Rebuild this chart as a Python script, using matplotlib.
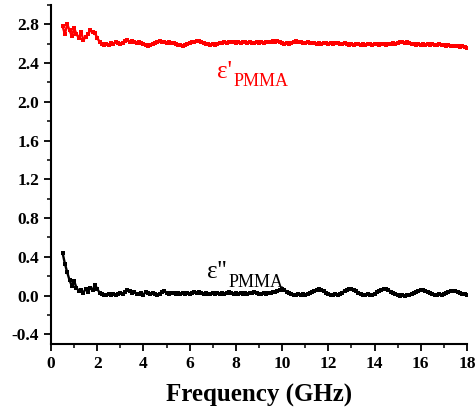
import numpy as np
import matplotlib
matplotlib.use("Agg")
import matplotlib.pyplot as plt
from matplotlib.ticker import MultipleLocator

# frequency grid of the VNA sweep (GHz)
freq = np.round(np.arange(0.5, 18.001, 0.1), 2)

# real part of permittivity, PMMA
eps_real = [
    2.78, 2.70, 2.80, 2.74, 2.68, 2.76, 2.70, 2.66, 2.72, 2.64,
    2.67, 2.70, 2.74, 2.72, 2.71, 2.66, 2.62, 2.60, 2.59, 2.60,
    2.59, 2.61, 2.60, 2.62, 2.61, 2.60, 2.61, 2.63, 2.64, 2.62,
    2.63, 2.62, 2.61, 2.62, 2.61, 2.60, 2.59, 2.58, 2.59, 2.60,
    2.61, 2.62, 2.63, 2.62, 2.62, 2.61, 2.62, 2.61, 2.61, 2.60,
    2.59, 2.59, 2.58, 2.59, 2.60, 2.61, 2.62, 2.62, 2.63, 2.63,
    2.62, 2.61, 2.60, 2.60, 2.59, 2.60, 2.59, 2.60, 2.61, 2.61,
    2.62, 2.61, 2.62, 2.62, 2.62, 2.61, 2.62, 2.61, 2.62, 2.62,
    2.61, 2.62, 2.61, 2.61, 2.62, 2.61, 2.62, 2.61, 2.62, 2.62,
    2.62, 2.63, 2.62, 2.63, 2.62, 2.61, 2.60, 2.61, 2.60, 2.61,
    2.62, 2.63, 2.62, 2.62, 2.61, 2.61, 2.62, 2.61, 2.61, 2.61,
    2.60, 2.61, 2.60, 2.61, 2.61, 2.60, 2.61, 2.60, 2.61, 2.61,
    2.60, 2.60, 2.61, 2.60, 2.59, 2.60, 2.59, 2.60, 2.60, 2.59,
    2.60, 2.59, 2.60, 2.60, 2.59, 2.60, 2.60, 2.59, 2.60, 2.60,
    2.59, 2.60, 2.60, 2.61, 2.60, 2.61, 2.62, 2.62, 2.61, 2.62,
    2.61, 2.60, 2.60, 2.59, 2.60, 2.59, 2.60, 2.59, 2.60, 2.59,
    2.60, 2.59, 2.59, 2.60, 2.59, 2.59, 2.58, 2.59, 2.58, 2.58,
    2.58, 2.58, 2.57, 2.58, 2.57, 2.56,
]

# imaginary part of permittivity, PMMA
eps_imag = [
    0.44, 0.33, 0.24, 0.16, 0.10, 0.15, 0.08, 0.05, 0.06, 0.03,
    0.07, 0.04, 0.08, 0.06, 0.11, 0.07, 0.03, 0.02, 0.01, 0.01,
    0.02, 0.01, 0.02, 0.01, 0.02, 0.03, 0.02, 0.04, 0.06, 0.05,
    0.03, 0.04, 0.02, 0.02, 0.03, 0.01, 0.04, 0.03, 0.02, 0.03,
    0.02, 0.01, 0.02, 0.04, 0.05, 0.03, 0.02, 0.03, 0.03, 0.02,
    0.03, 0.02, 0.03, 0.02, 0.03, 0.02, 0.03, 0.04, 0.03, 0.04,
    0.03, 0.02, 0.03, 0.02, 0.02, 0.03, 0.02, 0.03, 0.02, 0.03,
    0.02, 0.03, 0.04, 0.03, 0.02, 0.03, 0.02, 0.03, 0.02, 0.03,
    0.02, 0.03, 0.03, 0.04, 0.03, 0.02, 0.02, 0.03, 0.02, 0.03,
    0.03, 0.04, 0.04, 0.05, 0.06, 0.07, 0.06, 0.04, 0.03, 0.02,
    0.01, 0.01, 0.02, 0.01, 0.02, 0.01, 0.02, 0.03, 0.04, 0.05,
    0.06, 0.07, 0.06, 0.05, 0.03, 0.02, 0.01, 0.01, 0.02, 0.01,
    0.02, 0.03, 0.05, 0.06, 0.07, 0.07, 0.06, 0.05, 0.03, 0.02,
    0.01, 0.01, 0.02, 0.01, 0.01, 0.02, 0.04, 0.05, 0.06, 0.07,
    0.07, 0.06, 0.04, 0.03, 0.02, 0.01, 0.00, 0.01, 0.00, 0.01,
    0.01, 0.02, 0.03, 0.04, 0.05, 0.06, 0.06, 0.05, 0.04, 0.03,
    0.02, 0.01, 0.01, 0.02, 0.01, 0.02, 0.03, 0.04, 0.05, 0.05,
    0.05, 0.04, 0.03, 0.02, 0.02, 0.01,
]

plt.rcParams["font.family"] = ["Liberation Serif", "DejaVu Serif"]

fig = plt.figure(figsize=(4.77, 4.17), dpi=100)
ax = fig.add_axes([0.107, 0.175, 0.872, 0.813])

ax.plot(freq, eps_real, color="#ff0000", lw=1.7, marker="s", ms=2.2, mew=0)
ax.plot(freq, eps_imag, color="black", lw=1.7, marker="s", ms=2.2, mew=0)

ax.set_xlim(0, 18)
ax.set_ylim(-0.5, 3.0)
ax.xaxis.set_major_locator(MultipleLocator(2))
ax.xaxis.set_minor_locator(MultipleLocator(1))
ax.yaxis.set_major_locator(MultipleLocator(0.4))
ax.yaxis.set_minor_locator(MultipleLocator(0.2))
ax.set_yticks(np.arange(-0.4, 2.81, 0.4))
ax.yaxis.set_major_formatter(matplotlib.ticker.FormatStrFormatter("%.1f"))

for side in ["top", "right"]:
    ax.spines[side].set_visible(False)
for side in ["left", "bottom"]:
    ax.spines[side].set_linewidth(1.5)

ax.tick_params(which="major", direction="out", length=5, width=1.3,
               labelsize=12.5)
ax.tick_params(which="minor", direction="out", length=3, width=1.1)
for lab in ax.get_xticklabels() + ax.get_yticklabels():
    lab.set_fontweight("bold")

ax.set_xlabel("Frequency (GHz)", fontsize=18, fontweight="bold", labelpad=9)

# curve labels
ax.text(7.2, 2.25, "ε'", color="#ff0000", fontsize=18, ha="left", va="baseline")
ax.text(7.88, 2.16, "PMMA", color="#ff0000", fontsize=13, ha="left", va="baseline")
ax.text(6.75, 0.186, "ε''", color="black", fontsize=18, ha="left", va="baseline")
ax.text(7.66, 0.093, "PMMA", color="black", fontsize=13, ha="left", va="baseline")

fig.savefig("out.png", dpi=100)
